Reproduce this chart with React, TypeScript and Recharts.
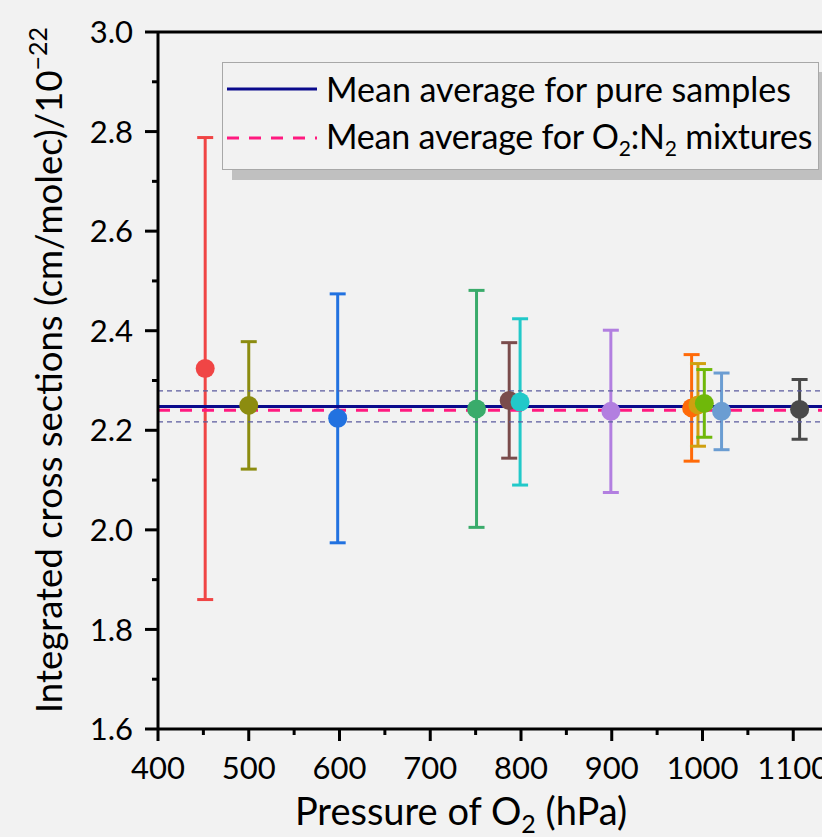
import React from 'react';
import { ComposedChart, Scatter, XAxis, YAxis, ErrorBar, ReferenceLine, Legend } from 'recharts';

const FONT = "Lato, 'Noto Sans', sans-serif";

const pressures = [452, 500, 598, 751, 787, 799, 899, 988, 995, 1002, 1021, 1107];
const crossSections = [2.324, 2.25, 2.224, 2.243, 2.26, 2.257, 2.238, 2.245, 2.251, 2.254, 2.238, 2.242];
const uncertainties = [0.464, 0.128, 0.25, 0.238, 0.116, 0.167, 0.163, 0.107, 0.083, 0.068, 0.077, 0.06];
const pointColors = [
  '#f04545', '#8c8c10', '#2272e0', '#3aab6b', '#7a4c4c', '#22c9c9',
  '#b27fe0', '#ff6a08', '#cfa010', '#6fb80a', '#6b9dd2', '#4a4a4a',
];

const meanPure = 2.248;
const meanMixtures = 2.24;
const pureBandLow = 2.217;
const pureBandHigh = 2.279;

const xTicks = [400, 450, 500, 550, 600, 650, 700, 750, 800, 850, 900, 950, 1000, 1050, 1100, 1150, 1200];
const yTicks = [1.6, 1.7, 1.8, 1.9, 2.0, 2.1, 2.2, 2.3, 2.4, 2.5, 2.6, 2.7, 2.8, 2.9, 3.0];

const legendPure = 'Mean average for pure samples';

const points = pressures.map((p, i) => ({ x: p, y: crossSections[i], err: uncertainties[i], color: pointColors[i] }));

const BottomTick = (props: any) => {
  const { x, y, payload } = props;
  const major = payload.value % 100 === 0;
  return (
    <g>
      <line x1={x} x2={x} y1={y} y2={y + (major ? 12 : 6)} stroke="#000" strokeWidth={3} />
      {major && (
        <text x={x} y={y + 50} textAnchor="middle" fontSize={31} fontFamily={FONT} fill="#000">
          {payload.value}
        </text>
      )}
    </g>
  );
};

const TopTick = (props: any) => {
  const { x, y, payload } = props;
  const major = payload.value % 100 === 0;
  return <line x1={x} x2={x} y1={y} y2={y + (major ? 13 : 7)} stroke="#000" strokeWidth={3} />;
};

const LeftTick = (props: any) => {
  const { x, y, payload } = props;
  const major = Math.round(payload.value * 10) % 2 === 0;
  return (
    <g>
      <line x1={x - (major ? 13 : 6)} x2={x} y1={y} y2={y} stroke="#000" strokeWidth={3} />
      {major && (
        <text x={x - 25} y={y} dy="0.36em" textAnchor="end" fontSize={31} fontFamily={FONT} fill="#000">
          {Number(payload.value).toFixed(1)}
        </text>
      )}
    </g>
  );
};

const XTitle = () => (
  <text x={461} y={825} textAnchor="middle" fontSize={38} fontFamily={FONT} fill="#000">
    Pressure of O<tspan dy={8} fontSize={25}>2</tspan>
    <tspan dy={-8}> (hPa)</tspan>
  </text>
);

const YTitle = () => (
  <text
    x={62}
    y={370}
    transform="rotate(-90, 62, 370)"
    textAnchor="middle"
    fontSize={36.5}
    fontFamily={FONT}
    fill="#000"
  >
    Integrated cross sections (cm/molec)/10<tspan dy={-15} fontSize={25}>−22</tspan>
  </text>
);

const LineSample = ({ color, dash }: { color: string; dash?: string }) => (
  <svg width={90} height={10} style={{ display: 'block' }}>
    <line x1={0} x2={90} y1={5} y2={5} stroke={color} strokeWidth={3} strokeDasharray={dash} />
  </svg>
);

const renderLegend = () => (
  <div
    style={{
      position: 'relative',
      width: 597,
      height: 108,
      boxSizing: 'border-box',
      border: '1.5px solid #a8a8a8',
      background: '#f2f2f2',
      boxShadow: '10px 10px 0 #c0c0c0',
      fontFamily: FONT,
      fontSize: 34,
      color: '#000',
      lineHeight: 1,
    }}
  >
    <div style={{ position: 'absolute', left: 4, top: 2, height: 48, display: 'flex', alignItems: 'center' }}>
      <LineSample color="#0a0a8c" />
      <span style={{ marginLeft: 9, whiteSpace: 'nowrap' }}>{legendPure}</span>
    </div>
    <div style={{ position: 'absolute', left: 4, top: 51, height: 48, display: 'flex', alignItems: 'center' }}>
      <LineSample color="#ff1a80" dash="12 10" />
      <span style={{ marginLeft: 9, whiteSpace: 'nowrap', letterSpacing: -0.2 }}>
        Mean average for O<sub style={{ fontSize: 21, verticalAlign: -7 }}>2</sub>:N
        <sub style={{ fontSize: 21, verticalAlign: -7 }}>2</sub> mixtures
      </span>
    </div>
  </div>
);

export default function App() {
  return (
    <div
      style={{
        position: 'absolute',
        left: 0,
        top: 0,
        width: 822,
        height: 837,
        overflow: 'hidden',
        background: '#f2f2f2',
      }}
    >
      <ComposedChart width={900} height={837} margin={{ top: 2, right: 16, bottom: 0, left: 0 }}>
        <XAxis
          dataKey="x"
          type="number"
          domain={[400, 1200]}
          ticks={xTicks}
          interval={0}
          allowDataOverflow
          height={108}
          tickSize={0}
          tickMargin={0}
          tick={<BottomTick />}
          axisLine={{ stroke: '#000', strokeWidth: 3 }}
          label={{ content: () => <XTitle /> }}
        />
        <XAxis
          xAxisId="top"
          orientation="top"
          type="number"
          domain={[400, 1200]}
          ticks={xTicks}
          interval={0}
          allowDataOverflow
          height={30}
          tickSize={0}
          tickMargin={0}
          tick={<TopTick />}
          axisLine={{ stroke: '#000', strokeWidth: 3 }}
        />
        <YAxis
          type="number"
          domain={[1.6, 3.0]}
          ticks={yTicks}
          interval={0}
          allowDataOverflow
          width={158}
          tickSize={0}
          tickMargin={0}
          tick={<LeftTick />}
          axisLine={{ stroke: '#000', strokeWidth: 3 }}
          label={{ content: () => <YTitle /> }}
        />
        {points.map((pt, i) => (
          <Scatter
            key={i}
            name={`p${i}`}
            data={[pt]}
            dataKey="y"
            fill={pt.color}
            isAnimationActive={false}
            shape={(props: any) => <circle cx={props.cx} cy={props.cy} r={9.5} fill={pt.color} />}
          >
            <ErrorBar
              dataKey="err"
              direction="y"
              width={8}
              stroke={pt.color}
              strokeWidth={3}
              isAnimationActive={false}
            />
          </Scatter>
        ))}
        <ReferenceLine y={pureBandHigh} stroke="#5b5b9e" strokeWidth={1.3} strokeDasharray="5 4" />
        <ReferenceLine y={pureBandLow} stroke="#5b5b9e" strokeWidth={1.3} strokeDasharray="5 4" />
        <ReferenceLine y={meanPure} stroke="#0a0a8c" strokeWidth={3} />
        <ReferenceLine y={meanMixtures} stroke="#ff1a80" strokeWidth={3} strokeDasharray="12 10" />
        <Legend
          layout="vertical"
          align="center"
          verticalAlign="middle"
          content={renderLegend}
          wrapperStyle={{ left: 222, top: 62, width: 597, height: 108 }}
        />
      </ComposedChart>
    </div>
  );
}
